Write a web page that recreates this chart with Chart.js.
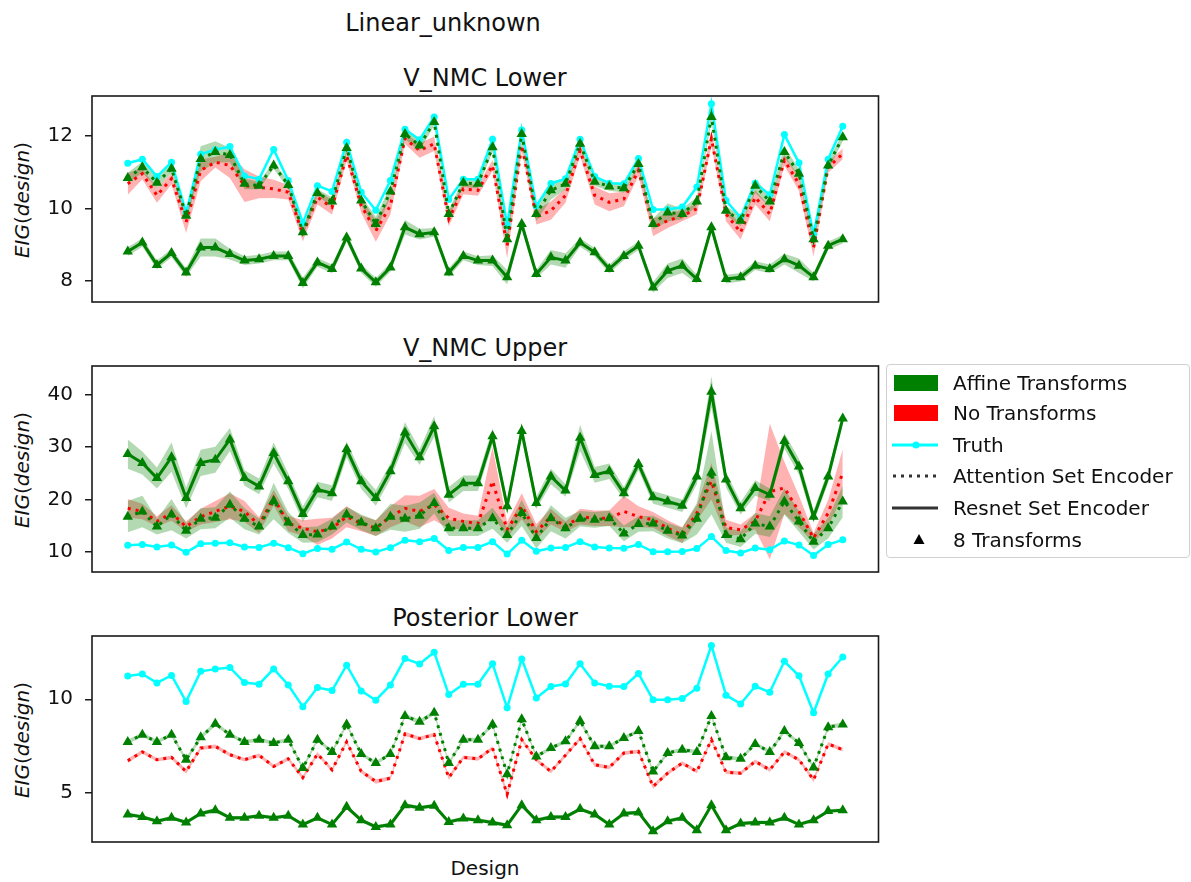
<!DOCTYPE html>
<html>
<head>
<meta charset="utf-8">
<script src="https://cdn.jsdelivr.net/npm/chart.js@4.4.0/dist/chart.umd.min.js"></script>
<style>
    body { margin: 0; background: #fff; width: 1191px; height: 882px; position: relative; overflow: hidden;
           font-family: "DejaVu Sans", sans-serif; color: #111; }
    canvas { position: absolute; left: 0; }
    .ttl { position: absolute; font-size: 24px; line-height: 24px; white-space: nowrap; transform: translateX(-50%); }
    .ylab { position: absolute; font-size: 20px; line-height: 24px; white-space: nowrap;
            transform: translate(-50%, -50%) rotate(-90deg); }
    .ylab i { font-style: italic; }
    .legend { position: absolute; left: 886px; top: 364px; width: 304px; height: 194px;
              border: 1px solid #d0d0d0; border-radius: 4px; box-sizing: border-box; }
    .row { position: absolute; left: 0; width: 300px; height: 28px; }
    .row svg { position: absolute; left: 5px; top: 0; }
    .row span { position: absolute; left: 66px; top: 0; font-size: 20px; line-height: 28px; white-space: nowrap; }
</style>
</head>
<body>

<div class="ttl" style="left:443px; top:11px;">Linear_unknown</div>
<div class="ttl" style="left:485px; top:66px;">V_NMC Lower</div>
<div class="ttl" style="left:485px; top:336px;">V_NMC Upper</div>
<div class="ttl" style="left:485px; top:606px;">Posterior Lower</div>
<div class="ttl" style="left:485px; top:856px; font-size:20px;">Design</div>

<div class="ylab" style="left:22px; top:200px;"><i>EIG</i>(<i>design</i>)</div>
<div class="ylab" style="left:22px; top:470px;"><i>EIG</i>(<i>design</i>)</div>
<div class="ylab" style="left:22px; top:740px;"><i>EIG</i>(<i>design</i>)</div>

<canvas id="p1" width="890" height="226" style="top:86px; width:890px; height:226px;"></canvas>
<canvas id="p2" width="890" height="226" style="top:356px; width:890px; height:226px;"></canvas>
<canvas id="p3" width="890" height="226" style="top:626px; width:890px; height:226px;"></canvas>

<div class="legend">
    <div class="row" style="top:4px;">
        <svg width="50" height="28"><rect x="2" y="6" width="44" height="16" fill="green"/></svg>
        <span>Affine Transforms</span>
    </div>
    <div class="row" style="top:34px;">
        <svg width="50" height="28"><rect x="2" y="6" width="44" height="16" fill="red"/></svg>
        <span>No Transforms</span>
    </div>
    <div class="row" style="top:66px;">
        <svg width="50" height="28"><line x1="0" y1="14" x2="46" y2="14" stroke="cyan" stroke-width="3"/><circle cx="24" cy="14" r="3.5" fill="cyan"/></svg>
        <span>Truth</span>
    </div>
    <div class="row" style="top:97px;">
        <svg width="50" height="28"><line x1="1" y1="14" x2="46" y2="14" stroke="#333" stroke-width="3" stroke-dasharray="3,5"/></svg>
        <span>Attention Set Encoder</span>
    </div>
    <div class="row" style="top:129px;">
        <svg width="50" height="28"><line x1="0" y1="14" x2="46" y2="14" stroke="#333" stroke-width="3"/></svg>
        <span>Resnet Set Encoder</span>
    </div>
    <div class="row" style="top:161px;">
        <svg width="50" height="28"><polygon points="27,8 21.5,18 32.5,18" fill="#000"/></svg>
        <span>8 Transforms</span>
    </div>
</div>

<script>
// 50 designs, x = 0..49
const truth = [11.25, 11.36, 10.88, 11.28, 9.88, 11.5, 11.62, 11.71, 10.9, 10.81, 11.63, 10.77, 9.6, 10.63, 10.47, 11.83, 10.45, 9.95, 10.77, 12.19,
               11.9, 12.53, 10.25, 10.81, 10.81, 11.91, 9.54, 12.17, 10.07, 10.69, 10.82, 11.91, 10.88, 10.7, 10.68, 11.38, 9.97, 9.97, 10.04, 10.59,
               12.89, 10.22, 9.75, 10.7, 10.38, 12.04, 11.26, 9.28, 11.36, 12.27];

// V_NMC Lower
const lowAffAttn = [10.84, 11.14, 10.71, 11.1, 9.8, 11.37, 11.56, 11.48, 10.68, 10.63, 11.19, 10.65, 9.34, 10.43, 10.19, 11.67, 10.22, 9.57, 10.47, 12.06,
                    11.74, 12.39, 9.85, 10.71, 10.68, 11.69, 9.15, 12.06, 9.85, 10.5, 10.68, 11.79, 10.74, 10.61, 10.56, 11.23, 9.57, 9.89, 9.85, 10.19,
                    12.53, 9.94, 9.66, 10.63, 10.19, 11.56, 10.96, 9.15, 11.19, 11.97];
const lowAffAttnErr = [0.15, 0.15, 0.15, 0.12, 0.12, 0.35, 0.3, 0.2, 0.15, 0.1, 0.1, 0.1, 0.12, 0.1, 0.12, 0.1, 0.12, 0.2, 0.15, 0.15,
                       0.15, 0.1, 0.1, 0.12, 0.12, 0.12, 0.15, 0.12, 0.2, 0.25, 0.15, 0.12, 0.12, 0.12, 0.12, 0.12, 0.15, 0.25, 0.15, 0.12,
                       0.12, 0.12, 0.15, 0.2, 0.15, 0.15, 0.12, 0.12, 0.12, 0.12];
const lowNoneAttn = [10.68, 10.96, 10.36, 10.82, 9.62, 11.05, 11.28, 11.19, 10.63, 10.58, 10.54, 10.45, 9.29, 10.31, 10.03, 11.46, 10.08, 9.38, 10.08, 11.93,
                     11.6, 11.79, 9.71, 10.54, 10.5, 11.19, 8.97, 11.74, 9.76, 9.94, 10.36, 11.6, 10.36, 10.17, 10.26, 11.05, 9.48, 9.66, 9.8, 9.99,
                     11.93, 9.85, 9.34, 10.31, 9.85, 11.33, 10.68, 8.92, 11.14, 11.51];
const lowNoneAttnErr = [0.3, 0.15, 0.2, 0.15, 0.3, 0.3, 0.15, 0.35, 0.45, 0.3, 0.25, 0.2, 0.2, 0.2, 0.2, 0.15, 0.2, 0.3, 0.25, 0.15,
                        0.2, 0.2, 0.2, 0.15, 0.15, 0.15, 0.35, 0.15, 0.2, 0.25, 0.2, 0.15, 0.25, 0.25, 0.2, 0.15, 0.25, 0.2, 0.15, 0.15,
                        0.2, 0.2, 0.2, 0.2, 0.2, 0.15, 0.2, 0.25, 0.15, 0.15];
const lowAffRes = [8.81, 9.06, 8.44, 8.77, 8.23, 8.92, 8.92, 8.74, 8.56, 8.6, 8.69, 8.69, 7.94, 8.51, 8.33, 9.2, 8.34, 7.96, 8.37, 9.48,
                   9.29, 9.34, 8.23, 8.69, 8.56, 8.56, 8.1, 9.57, 8.19, 8.65, 8.56, 9.06, 8.79, 8.33, 8.69, 8.97, 7.82, 8.28, 8.42, 8.05,
                   9.48, 8.05, 8.1, 8.42, 8.33, 8.6, 8.42, 8.1, 8.97, 9.15];
const lowAffResErr = [0.12, 0.12, 0.12, 0.12, 0.12, 0.25, 0.25, 0.15, 0.12, 0.12, 0.12, 0.12, 0.15, 0.12, 0.12, 0.12, 0.12, 0.12, 0.12, 0.2,
                      0.15, 0.12, 0.12, 0.12, 0.12, 0.15, 0.2, 0.15, 0.12, 0.2, 0.2, 0.12, 0.12, 0.12, 0.12, 0.12, 0.15, 0.2, 0.2, 0.12,
                      0.12, 0.12, 0.12, 0.12, 0.12, 0.15, 0.2, 0.12, 0.12, 0.12];

// V_NMC Upper
const upAffRes = [28.7, 27.0, 24.1, 28.1, 20.3, 27.0, 27.6, 31.5, 24.1, 22.5, 28.9, 23.5, 17.2, 21.9, 21.2, 29.6, 23.5, 20.3, 25.4, 32.8,
                  28.1, 34.0, 20.9, 23.1, 23.1, 32.1, 18.7, 33.1, 19.3, 24.4, 21.7, 31.8, 24.7, 25.4, 21.2, 26.8, 20.4, 19.6, 18.8, 24.4,
                  40.6, 23.8, 18.3, 22.2, 20.9, 31.2, 26.3, 16.7, 24.4, 35.5];
const upAffResErr = [2.8, 2.2, 2.0, 2.8, 2.0, 2.5, 2.5, 2.2, 1.5, 1.5, 2.0, 1.5, 1.5, 1.5, 1.5, 1.5, 1.5, 1.5, 1.5, 2.0,
                     1.5, 2.0, 1.5, 1.5, 1.5, 1.5, 1.2, 1.5, 1.2, 1.5, 1.2, 2.5, 1.5, 1.5, 1.2, 1.2, 1.2, 1.2, 1.2, 1.5,
                     3.0, 1.5, 1.2, 1.5, 1.2, 1.5, 1.5, 1.2, 1.2, 1.2];
const upAffAttn = [16.7, 17.7, 14.8, 17.1, 14.0, 16.3, 16.5, 19.0, 16.3, 14.8, 19.7, 15.6, 13.2, 13.3, 14.8, 17.1, 15.6, 14.5, 16.7, 16.3,
                   16.9, 19.3, 14.5, 14.5, 14.5, 16.4, 13.2, 17.4, 12.6, 16.4, 14.5, 16.3, 16.1, 16.4, 13.5, 15.3, 15.4, 14.0, 13.1, 16.3,
                   25.1, 13.2, 12.4, 15.4, 14.8, 19.6, 15.8, 11.9, 14.5, 19.6];
const upAffAttnErr = [3.0, 3.0, 1.5, 3.0, 1.5, 2.0, 2.0, 2.5, 2.0, 1.5, 3.5, 2.0, 1.5, 1.5, 1.5, 1.5, 1.5, 1.5, 2.5, 2.5,
                      2.5, 2.0, 1.5, 1.5, 1.5, 2.0, 1.5, 2.5, 2.0, 2.5, 2.0, 1.5, 1.5, 1.5, 1.5, 1.5, 1.5, 1.5, 1.5, 3.0,
                      8.0, 1.5, 1.5, 2.0, 2.0, 2.5, 2.0, 1.5, 2.0, 3.0];
const upNoneAttn = [18.3, 17.7, 15.8, 17.4, 14.8, 16.7, 17.7, 18.7, 17.7, 15.1, 20.3, 15.4, 14.5, 13.8, 14.5, 16.7, 15.4, 14.5, 16.7, 18.3,
                    17.7, 19.0, 16.4, 15.8, 15.4, 23.5, 14.2, 18.7, 13.8, 16.7, 14.8, 16.7, 16.4, 16.4, 17.7, 16.7, 16.1, 14.5, 13.2, 17.4,
                    23.5, 14.6, 14.2, 15.8, 21.5, 22.2, 17.7, 12.6, 17.4, 25.1];
const upNoneAttnErr = [1.8, 1.5, 1.0, 1.5, 1.0, 1.5, 2.0, 2.5, 2.0, 1.5, 1.5, 1.5, 1.5, 2.5, 2.0, 2.0, 1.5, 1.5, 2.0, 2.5,
                       3.0, 3.0, 2.0, 1.5, 1.5, 6.5, 1.5, 2.5, 1.5, 1.5, 1.0, 1.5, 1.5, 1.5, 3.0, 2.0, 1.5, 1.5, 1.5, 1.5,
                       3.5, 1.5, 1.0, 1.5, 13.0, 5.0, 3.0, 1.0, 2.5, 4.5];

// Posterior Lower
const postAffAttn = [7.71, 8.1, 7.71, 8.1, 6.75, 7.96, 8.68, 8.1, 7.71, 7.83, 7.65, 7.83, 6.3, 7.83, 7.17, 8.65, 7.06, 6.57, 7.06, 9.1,
                     8.79, 9.28, 6.57, 7.83, 7.83, 8.65, 5.97, 8.92, 6.93, 7.38, 7.74, 8.83, 7.47, 7.47, 7.92, 8.29, 6.12, 7.11, 7.29, 7.17,
                     9.1, 6.88, 6.8, 7.6, 7.17, 8.29, 7.65, 6.34, 8.5, 8.65];
const postAffAttnErr = [0.12, 0.12, 0.1, 0.12, 0.12, 0.12, 0.12, 0.1, 0.1, 0.1, 0.1, 0.1, 0.12, 0.1, 0.1, 0.12, 0.1, 0.1, 0.1, 0.12,
                        0.12, 0.12, 0.1, 0.1, 0.1, 0.12, 0.12, 0.12, 0.1, 0.1, 0.1, 0.12, 0.1, 0.1, 0.1, 0.1, 0.12, 0.1, 0.1, 0.1,
                        0.12, 0.1, 0.1, 0.1, 0.1, 0.12, 0.1, 0.1, 0.12, 0.1];
const postNoneAttn = [6.7, 7.17, 6.75, 6.88, 6.12, 7.38, 7.47, 7.02, 6.75, 6.99, 6.39, 6.8, 5.79, 7.06, 6.21, 7.71, 6.12, 5.58, 5.76, 8.14,
                      7.89, 8.1, 5.79, 6.88, 6.8, 7.38, 4.89, 7.83, 6.75, 6.12, 6.99, 7.89, 6.48, 6.34, 7.11, 7.2, 5.31, 6.03, 6.57, 6.12,
                      7.83, 6.08, 6.03, 6.66, 6.21, 7.17, 6.75, 5.67, 7.6, 7.29];
const postNoneAttnErr = [0.12, 0.1, 0.1, 0.1, 0.12, 0.1, 0.1, 0.1, 0.1, 0.1, 0.1, 0.1, 0.12, 0.1, 0.1, 0.1, 0.1, 0.12, 0.1, 0.12,
                         0.1, 0.1, 0.12, 0.1, 0.1, 0.1, 0.2, 0.1, 0.1, 0.1, 0.1, 0.1, 0.1, 0.1, 0.1, 0.1, 0.12, 0.1, 0.1, 0.1,
                         0.12, 0.1, 0.1, 0.1, 0.1, 0.1, 0.1, 0.12, 0.1, 0.1];
const postAffRes = [3.81, 3.68, 3.45, 3.63, 3.38, 3.86, 4.04, 3.63, 3.63, 3.74, 3.63, 3.74, 3.27, 3.63, 3.27, 4.22, 3.5, 3.14, 3.27, 4.31,
                    4.17, 4.28, 3.41, 3.59, 3.5, 3.38, 3.23, 4.31, 3.5, 3.68, 3.68, 4.1, 3.81, 3.27, 3.86, 3.92, 2.91, 3.45, 3.63, 2.96,
                    4.31, 2.96, 3.32, 3.38, 3.38, 3.63, 3.27, 3.5, 3.99, 4.04];
const postAffResErr = [0.1, 0.1, 0.1, 0.1, 0.1, 0.1, 0.12, 0.1, 0.1, 0.1, 0.1, 0.1, 0.1, 0.1, 0.1, 0.12, 0.1, 0.1, 0.1, 0.12,
                       0.1, 0.1, 0.1, 0.1, 0.1, 0.1, 0.1, 0.12, 0.1, 0.1, 0.1, 0.1, 0.1, 0.1, 0.1, 0.1, 0.1, 0.1, 0.1, 0.1,
                       0.12, 0.1, 0.1, 0.1, 0.1, 0.1, 0.1, 0.1, 0.1, 0.1];

const GREEN = '#008000';
const GREEN_FILL = 'rgba(0, 128, 0, 0.3)';
const RED = '#ff0000';
const RED_FILL = 'rgba(255, 0, 0, 0.3)';
const CYAN = '#00ffff';

const pts = arr => arr.map((v, i) => ({ x: i, y: v }));

// box around the axes, like matplotlib spines
const framePlugin = {
    id: 'frame',
    afterDraw(chart) {
        const a = chart.chartArea, ctx = chart.ctx;
        ctx.save();
        ctx.strokeStyle = '#1a1a1a';
        ctx.lineWidth = 1.6;
        ctx.strokeRect(a.left, a.top, a.right - a.left, a.bottom - a.top);
        ctx.restore();
    }
};

// marker: 'tri', 'dot' or 'none'
function lineSet(data, color, dotted, marker) {
    return {
        data: pts(data),
        borderColor: color,
        backgroundColor: color,
        borderWidth: marker === 'dot' ? 2.5 : 3,
        borderDash: dotted ? [3, 5] : [],
        borderCapStyle: 'butt',
        pointStyle: marker === 'tri' ? 'triangle' : 'circle',
        pointRadius: marker === 'tri' ? 6 : (marker === 'dot' ? 3.5 : 0),
        pointBorderWidth: 0,
        pointBackgroundColor: color,
        fill: false,
        tension: 0
    };
}

function bandSets(mean, err, fillColor) {
    return [
        { data: pts(mean.map((v, i) => v + err[i])), borderWidth: 0, pointRadius: 0, backgroundColor: fillColor, fill: '+1', tension: 0 },
        { data: pts(mean.map((v, i) => v - err[i])), borderWidth: 0, pointRadius: 0, backgroundColor: fillColor, fill: false, tension: 0 }
    ];
}

function makePanel(id, yMin, yMax, tickVals, datasets) {
    new Chart(document.getElementById(id), {
        type: 'line',
        data: { datasets: datasets },
        options: {
            responsive: false,
            animation: false,
            layout: { padding: { top: 10, bottom: 10, left: 0, right: 11.5 } },
            plugins: { legend: { display: false }, tooltip: { enabled: false } },
            scales: {
                x: { type: 'linear', min: -2.45, max: 51.45, display: false },
                y: {
                    min: yMin, max: yMax,
                    afterBuildTicks: s => { s.ticks = tickVals.map(v => ({ value: v })); },
                    afterFit: s => { s.width = 92; s.paddingTop = 0; s.paddingBottom = 0; },
                    border: { display: false },
                    grid: { drawOnChartArea: false, drawTicks: true, tickLength: 7, color: '#1a1a1a', lineWidth: 1.5 },
                    ticks: { padding: 12, color: '#111', font: { family: 'DejaVu Sans', size: 20 } }
                }
            }
        },
        plugins: [framePlugin]
    });
}

makePanel('p1', 7.416, 13.107, [8, 10, 12], [
    lineSet(lowAffRes, GREEN, false, 'tri'),
    lineSet(lowAffAttn, GREEN, true, 'tri'),
    lineSet(lowNoneAttn, RED, true, 'none'),
    lineSet(truth, CYAN, false, 'dot'),
    ...bandSets(lowAffRes, lowAffResErr, GREEN_FILL),
    ...bandSets(lowAffAttn, lowAffAttnErr, GREEN_FILL),
    ...bandSets(lowNoneAttn, lowNoneAttnErr, RED_FILL)
]);

makePanel('p2', 6.11, 45.55, [10, 20, 30, 40], [
    lineSet(upAffRes, GREEN, false, 'tri'),
    lineSet(upAffAttn, GREEN, true, 'tri'),
    lineSet(upNoneAttn, RED, true, 'none'),
    lineSet(truth, CYAN, false, 'dot'),
    ...bandSets(upAffRes, upAffResErr, GREEN_FILL),
    ...bandSets(upAffAttn, upAffAttnErr, GREEN_FILL),
    ...bandSets(upNoneAttn, upNoneAttnErr, RED_FILL)
]);

makePanel('p3', 2.33, 13.40, [5, 10], [
    lineSet(postAffRes, GREEN, false, 'tri'),
    lineSet(postAffAttn, GREEN, true, 'tri'),
    lineSet(postNoneAttn, RED, true, 'none'),
    lineSet(truth, CYAN, false, 'dot'),
    ...bandSets(postAffRes, postAffResErr, GREEN_FILL),
    ...bandSets(postAffAttn, postAffAttnErr, GREEN_FILL),
    ...bandSets(postNoneAttn, postNoneAttnErr, RED_FILL)
]);
</script>
</body>
</html>
